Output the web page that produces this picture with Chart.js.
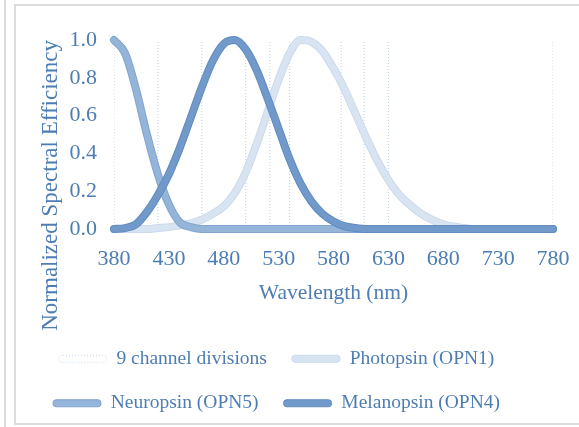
<!DOCTYPE html>
<html>
<head>
<meta charset="utf-8">
<script src="https://cdn.jsdelivr.net/npm/chart.js@4.4.1/dist/chart.umd.min.js"></script>
<style>
    html, body { margin: 0; padding: 0; background: #fff; }
    body { width: 579px; height: 427px; position: relative; overflow: hidden; }
    .side-line { position: absolute; left: 4px; top: 0; width: 2px; height: 427px; background: #dcdcdc; }
    .frame { position: absolute; left: 14px; top: 4px; width: 600px; height: 421px; border: 2px solid #dcdcdc; box-sizing: border-box; }
    #canvas { position: absolute; left: 0; top: 0; }
</style>
</head>
<body>
<div class="side-line"></div>
<div class="frame"></div>
<canvas id="canvas" width="579" height="427"></canvas>
<script>
const wavelengths = [380, 390, 400, 410, 420, 430, 440, 450, 460, 470, 480, 490, 500, 510, 520, 530, 540, 550, 560, 570, 580,
    590, 600, 610, 620, 630, 640, 650, 660, 670, 680, 690, 700, 710, 720, 730, 740, 750, 760, 770, 780];

const photopsin = [0, 0, 0, 0, 0.005, 0.01, 0.02, 0.03, 0.05, 0.08, 0.12, 0.19, 0.3, 0.45, 0.62, 0.79, 0.93, 1.0, 0.99, 0.94, 0.85,
    0.74, 0.61, 0.48, 0.36, 0.26, 0.18, 0.125, 0.08, 0.048, 0.025, 0.012, 0.005, 0, 0, 0, 0, 0, 0, 0, 0];

const neuropsin = [1.0, 0.93, 0.74, 0.5, 0.29, 0.13, 0.035, 0.01, 0, 0, 0, 0, 0, 0, 0, 0, 0, 0, 0, 0, 0,
    0, 0, 0, 0, 0, 0, 0, 0, 0, 0, 0, 0, 0, 0, 0, 0, 0, 0, 0, 0];

const melanopsin = [0, 0.005, 0.025, 0.09, 0.18, 0.29, 0.43, 0.59, 0.75, 0.89, 0.98, 1.0, 0.95, 0.84, 0.69, 0.53, 0.37, 0.24, 0.145, 0.08, 0.04,
    0.015, 0.005, 0, 0, 0, 0, 0, 0, 0, 0, 0, 0, 0, 0, 0, 0, 0, 0, 0, 0];

// channel borders (nm)
const channelDivisions = [380, 420, 460, 500, 522, 540, 587, 608, 630, 780];

const textColor = '#4d7db3';
Chart.defaults.font.family = "'Liberation Serif', 'DejaVu Serif', serif";
Chart.defaults.color = textColor;

function toPoints(values) {
    return wavelengths.map((w, i) => ({ x: w, y: values[i] }));
}

let divisionPoints = [];
channelDivisions.forEach(x => {
    divisionPoints.push({ x: x, y: 0 }, { x: x, y: 1 }, { x: x, y: null });
});

// darker rim under each curve, Excel style
const lineEdges = {
    id: 'lineEdges',
    beforeDatasetDraw(chart, args) {
        const ds = chart.data.datasets[args.index];
        if (!ds.edgeColor || ds.isDivision) return;
        const ctx = chart.ctx;
        ctx.save();
        ctx.beginPath();
        args.meta.dataset.path(ctx);
        ctx.lineWidth = ds.borderWidth + 2;
        ctx.strokeStyle = ds.edgeColor;
        ctx.lineJoin = 'round';
        ctx.lineCap = 'round';
        ctx.stroke();
        ctx.restore();
    }
};

const curveBase = {
    pointRadius: 0,
    borderWidth: 6,
    borderCapStyle: 'round',
    borderJoinStyle: 'round',
    cubicInterpolationMode: 'monotone',
    fill: false,
    clip: false
};

const config = {
    type: 'line',
    data: {
        datasets: [
            {
                label: '9 channel divisions',
                data: divisionPoints,
                isDivision: true,
                borderColor: '#bed2e8',
                borderWidth: 1,
                borderDash: [1, 2],
                pointRadius: 0,
                spanGaps: false,
                tension: 0,
                legendFill: '#ffffff',
                edgeColor: '#c3d5ea',
                legendDash: [1, 2],
                order: 3
            },
            Object.assign({}, curveBase, {
                label: 'Photopsin (OPN1)',
                data: toPoints(photopsin),
                borderColor: '#d8e4f1',
                legendFill: '#d8e4f1',
                edgeColor: '#cbdaec',
                order: 2
            }),
            Object.assign({}, curveBase, {
                label: 'Neuropsin (OPN5)',
                data: toPoints(neuropsin),
                borderColor: '#94b4d8',
                legendFill: '#94b4d8',
                edgeColor: '#80a5cf',
                order: 1
            }),
            Object.assign({}, curveBase, {
                label: 'Melanopsin (OPN4)',
                data: toPoints(melanopsin),
                borderColor: '#719aca',
                legendFill: '#719aca',
                edgeColor: '#608cc0',
                order: 0
            })
        ]
    },
    options: {
        responsive: false,
        animation: false,
        layout: { padding: { left: 0, top: 40, right: 26, bottom: 4 } },
        scales: {
            x: {
                type: 'linear',
                min: 380,
                max: 780,
                grid: { display: false, drawTicks: false },
                border: { display: false },
                ticks: { stepSize: 50, padding: 17, font: { size: 22 } },
                title: { display: true, text: 'Wavelength (nm)', font: { size: 21.5 }, padding: { top: 0, bottom: 18 } },
                afterFit: (scale) => {
                    scale.height = 95;
                    scale.paddingLeft = 0;
                    scale.paddingRight = 0;
                }
            },
            y: {
                min: 0,
                max: 1,
                grid: { display: false, drawTicks: false },
                border: { display: false },
                ticks: { stepSize: 0.2, padding: 17, font: { size: 22 }, callback: (v) => v.toFixed(1) },
                title: { display: true, text: 'Normalized Spectral Efficiency', align: 'end', font: { size: 23 }, padding: { top: 37, bottom: 0 } },
                afterFit: (scale) => { scale.width = 114; }
            }
        },
        plugins: {
            tooltip: { enabled: false },
            legend: {
                position: 'bottom',
                labels: {
                    boxWidth: 48,
                    boxHeight: 7,
                    padding: 25,
                    useBorderRadius: true,
                    borderRadius: 3,
                    font: { size: 19.5 },
                    color: textColor,
                    sort: (a, b) => a.datasetIndex - b.datasetIndex,
                    generateLabels: function(chart) {
                        const items = Chart.defaults.plugins.legend.labels.generateLabels(chart);
                        items.forEach(item => {
                            const ds = chart.data.datasets[item.datasetIndex];
                            item.fillStyle = ds.legendFill;
                            item.strokeStyle = ds.edgeColor;
                            item.lineWidth = 1;
                            item.lineDash = ds.legendDash || [];
                        });
                        return items;
                    }
                }
            }
        }
    },
    plugins: [lineEdges]
};

const ctx = document.getElementById('canvas');
const chart = new Chart(ctx, config);
</script>
</body>
</html>
